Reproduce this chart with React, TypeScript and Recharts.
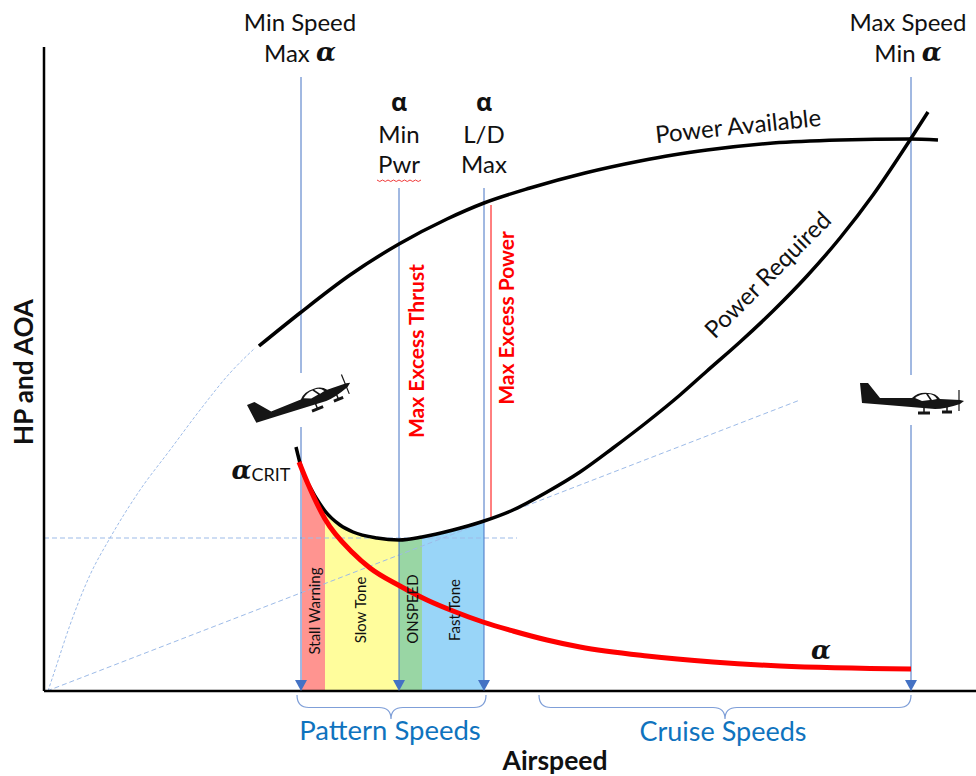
import { Area, ComposedChart, Line, ReferenceArea, ReferenceDot, ReferenceLine, XAxis, YAxis } from 'recharts'

const W = 976
const H = 776
const BODY = 'Lato, "Open Sans", sans-serif'
const GREEK = '"DejaVu Serif", serif'

const powerAvailable = [
  { x: 215, y: 345 }, { x: 256, y: 378 }, { x: 306, y: 416 }, { x: 355, y: 447 },
  { x: 403, y: 472 }, { x: 440, y: 488 }, { x: 486, y: 503 }, { x: 541, y: 518 },
  { x: 596, y: 530 }, { x: 629, y: 536 }, { x: 663, y: 541 }, { x: 729, y: 548 },
  { x: 796, y: 551 }, { x: 866, y: 552 }, { x: 894, y: 551 },
]
const powerRequired = [
  { x: 252, y: 244 }, { x: 258, y: 221 }, { x: 266, y: 204 }, { x: 276, y: 187 },
  { x: 281, y: 180 }, { x: 296, y: 166 }, { x: 309, y: 159 }, { x: 333, y: 153 },
  { x: 355, y: 151 }, { x: 378, y: 154 }, { x: 409, y: 161 }, { x: 440, y: 170 },
  { x: 469, y: 181 }, { x: 503, y: 199 }, { x: 536, y: 219 }, { x: 569, y: 243 },
  { x: 603, y: 269 }, { x: 636, y: 296 }, { x: 663, y: 320 }, { x: 696, y: 349 },
  { x: 729, y: 380 }, { x: 763, y: 415 }, { x: 796, y: 453 }, { x: 829, y: 496 },
  { x: 866, y: 551 }, { x: 884, y: 579 },
]
const alpha = [
  { x: 255, y: 229 }, { x: 264, y: 207 }, { x: 281, y: 172 }, { x: 309, y: 138 },
  { x: 326, y: 123 }, { x: 356, y: 105 }, { x: 383, y: 91 }, { x: 409, y: 80 },
  { x: 439, y: 69 }, { x: 469, y: 60 }, { x: 503, y: 51 }, { x: 536, y: 44 },
  { x: 603, y: 35 }, { x: 669, y: 29 }, { x: 736, y: 25 }, { x: 867, y: 22 },
]
const thrustCurve = [
  { x: 4, y: 0 }, { x: 11, y: 21 }, { x: 26, y: 66 }, { x: 46, y: 116 }, { x: 66, y: 153 },
  { x: 96, y: 201 }, { x: 126, y: 241 }, { x: 156, y: 281 }, { x: 186, y: 318 }, { x: 211, y: 343 },
]
const minPowerLevel = [{ x: 0, y: 153 }, { x: 473, y: 153 }]
const tangentLine = [{ x: 3, y: 0 }, { x: 756, y: 291 }]

const bands = [
  { name: 'Stall Warning', from: 258, to: 281, fill: '#FF9490' },
  { name: 'Slow Tone', from: 281, to: 355, fill: '#FFFD9C' },
  { name: 'ONSPEED', from: 355, to: 378, fill: '#99D6A4' },
  { name: 'Fast Tone', from: 378, to: 440, fill: '#99D5F8' },
]
const speedMarkers = [
  { x: 257, segments: [[614, 318], [264, 0]] },
  { x: 355, segments: [[503, 0]] },
  { x: 440, segments: [[503, 0]] },
  { x: 867, segments: [[614, 316], [266, 0]] },
]
const excessPowerAt = 447
const braces = [
  { from: 253, to: 442, tip: 347 },
  { from: 495, to: 867, tip: 681 },
]

type Note = { x: number; y: number; text: string; size?: number; bold?: boolean; fill?: string; angle?: number }
const notes: Note[] = [
  { x: 256, y: 670, text: 'Min Speed', size: 24 },
  { x: 864, y: 670, text: 'Max Speed', size: 24 },
  { x: 355, y: 558, text: 'Min', size: 24 },
  { x: 355, y: 528, text: 'Pwr', size: 24 },
  { x: 440, y: 558, text: 'L/D', size: 24 },
  { x: 440, y: 528, text: 'Max', size: 24 },
  { x: 694, y: 566, text: 'Power Available', size: 24, angle: -6 },
  { x: 723, y: 417, text: 'Power Required', size: 24, angle: -45 },
  { x: 371, y: 340, text: 'Max Excess Thrust', size: 21, bold: true, fill: '#FF0000', angle: -90 },
  { x: 461, y: 373, text: 'Max Excess Power', size: 21, bold: true, fill: '#FF0000', angle: -90 },
  { x: 270, y: 80, text: 'Stall Warning', size: 15, angle: -90 },
  { x: 316, y: 81, text: 'Slow Tone', size: 15, angle: -90 },
  { x: 368, y: 82, text: 'ONSPEED', size: 15, angle: -90 },
  { x: 410, y: 81, text: 'Fast Tone', size: 15, angle: -90 },
  { x: 346, y: -38, text: 'Pattern Speeds', size: 27.5, fill: '#0F73BE' },
  { x: 679, y: -39, text: 'Cruise Speeds', size: 27, fill: '#0F73BE' },
  { x: 511, y: -69, text: 'Airspeed', size: 26.5, bold: true },
  { x: -21, y: 319, text: 'HP and AOA', size: 26, bold: true, angle: -90 },
]

const NoteText = ({ cx, cy, note }: any) => (
  <text
    x={cx}
    y={cy}
    textAnchor="middle"
    dominantBaseline="central"
    fontFamily={BODY}
    fontSize={note.size}
    fontWeight={note.bold ? 700 : 400}
    fill={note.fill ?? '#111'}
    transform={note.angle ? `rotate(${note.angle} ${cx} ${cy})` : undefined}
  >
    {note.text}
  </text>
)

const AlphaText = ({ cx, cy, prefix, suffix, upright }: any) => (
  <text x={cx} y={cy} textAnchor="middle" dominantBaseline="central" fontFamily={BODY} fontSize={24} fill="#111">
    {prefix}
    <tspan
      fontFamily={upright ? '"Open Sans", sans-serif' : GREEK}
      fontWeight={700}
      fontStyle={upright ? 'normal' : 'italic'}
      fontSize={upright ? 25 : 26}
    >
      α
    </tspan>
    {suffix && <tspan fontSize={18} dy={4}>{suffix}</tspan>}
  </text>
)

const Arrow = ({ cx, cy }: any) => <path d={`M${cx - 6} ${cy - 11} L${cx + 6} ${cy - 11} L${cx} ${cy} Z`} fill="#4472C4" />

const Brace = ({ x, y, width, height, tipShare }: any) => {
  const r = 12
  const tipX = x + width * tipShare
  const mid = y + height * 0.52
  return (
    <path
      fill="none"
      stroke="#7F9FD8"
      strokeWidth={1.2}
      d={`M${x} ${y} Q${x} ${mid} ${x + r} ${mid} L${tipX - r} ${mid} Q${tipX} ${mid} ${tipX} ${y + height} Q${tipX} ${mid} ${tipX + r} ${mid} L${x + width - r} ${mid} Q${x + width} ${mid} ${x + width} ${y}`}
    />
  )
}

const planeBody = (
  <>
    <path
      fill="#151515"
      d="M0 0 L8 0 L20 15 L52 15 Q58 9 68 10 Q76 10 80 16 L100 17 L104 18 L100 21 Q85 26 75 26 L27 22 L2 20 Z"
    />
    <path fill="#fff" d="M55 15 Q60 11 66 11 L70 17 L62 18 Z" />
    <path fill="#fff" d="M68 11 Q74 11 77 16 L72 17 Z" />
    <path stroke="#151515" strokeWidth={1.2} d="M99 7 L99 28" />
    <path stroke="#151515" strokeWidth={3} d="M58 30 L70 30 M82 29 L92 29" />
    <path stroke="#151515" strokeWidth={1.5} d="M64 24 L64 30 M87 24 L87 29" />
  </>
)

const Plane = ({ cx, cy, angle, box }: any) => (
  <g>
    <rect x={box[0]} y={box[1]} width={box[2]} height={box[3]} fill="#fff" />
    <g transform={`translate(${cx} ${cy}) rotate(${angle})`}>{planeBody}</g>
  </g>
)

const Squiggle = ({ cx, cy }: any) => (
  <path
    fill="none"
    stroke="#F03A3A"
    strokeWidth={1}
    d={`M${cx - 22} ${cy} q2.75 3 5.5 0 q2.75 3 5.5 0 q2.75 3 5.5 0 q2.75 3 5.5 0 q2.75 3 5.5 0 q2.75 3 5.5 0 q2.75 3 5.5 0 q2.75 3 5.5 0`}
  />
)

export default function App() {
  return (
    <div style={{ position: 'absolute', left: 0, top: 0, width: W, height: H, background: '#fff' }}>
      <ComposedChart width={W} height={H} margin={{ top: 47, right: 0, bottom: 84, left: 43 }}>
        <XAxis type="number" dataKey="x" domain={[0, 932]} height={1} tick={false} tickLine={false} axisLine={{ stroke: '#000', strokeWidth: 2.5 }} allowDuplicatedCategory={false} />
        <YAxis type="number" dataKey="y" domain={[0, 644]} width={1} tick={false} tickLine={false} axisLine={{ stroke: '#000', strokeWidth: 2.5 }} />

        {bands.map((b) => (
          <Area
            key={b.name}
            data={powerRequired.filter((p) => p.x >= b.from && p.x <= b.to)}
            dataKey="y"
            type="monotone"
            fill={b.fill}
            fillOpacity={1}
            stroke="none"
            isAnimationActive={false}
          />
        ))}

        <Line data={thrustCurve} dataKey="y" type="monotone" stroke="#9DBBE8" strokeWidth={1} strokeDasharray="3 2" dot={false} isAnimationActive={false} />
        <Line data={minPowerLevel} dataKey="y" stroke="#9DBBE8" strokeWidth={1} strokeDasharray="5 3" dot={false} isAnimationActive={false} />
        <Line data={tangentLine} dataKey="y" stroke="#9DBBE8" strokeWidth={1} strokeDasharray="5 3" dot={false} isAnimationActive={false} />

        {speedMarkers.map((m) =>
          m.segments.map((s) => (
            <ReferenceLine key={`${m.x}-${s[0]}`} segment={[{ x: m.x, y: s[0] }, { x: m.x, y: s[1] }]} stroke="#4472C4" strokeWidth={1} />
          )),
        )}
        <ReferenceLine segment={[{ x: excessPowerAt, y: 486 }, { x: excessPowerAt, y: 172 }]} stroke="#FF0000" strokeWidth={1} />

        <Line data={powerAvailable} dataKey="y" type="monotone" stroke="#000" strokeWidth={3.5} dot={false} isAnimationActive={false} />
        <Line data={powerRequired} dataKey="y" type="monotone" stroke="#000" strokeWidth={3.5} dot={false} isAnimationActive={false} />
        <Line data={alpha} dataKey="y" type="monotone" stroke="#FF0000" strokeWidth={5} dot={false} isAnimationActive={false} />

        {speedMarkers.map((m) => (
          <ReferenceDot key={m.x} x={m.x} y={0} ifOverflow="visible" shape={<Arrow />} />
        ))}
        {braces.map((b) => (
          <ReferenceArea key={b.from} x1={b.from} x2={b.to} y1={-4} y2={-28} ifOverflow="visible" shape={<Brace tipShare={(b.tip - b.from) / (b.to - b.from)} />} />
        ))}

        <ReferenceDot x={203} y={286} ifOverflow="visible" shape={<Plane angle={-22} box={[245, 373, 106, 54]} />} />
        <ReferenceDot x={816} y={308} ifOverflow="visible" shape={<Plane angle={0} box={[858, 375, 108, 50]} />} />

        {notes.map((n) => (
          <ReferenceDot key={n.text} x={n.x} y={n.y} ifOverflow="visible" shape={<NoteText note={n} />} />
        ))}
        <ReferenceDot x={256} y={639} ifOverflow="visible" shape={<AlphaText prefix="Max " />} />
        <ReferenceDot x={864} y={639} ifOverflow="visible" shape={<AlphaText prefix="Min " />} />
        <ReferenceDot x={355} y={590} ifOverflow="visible" shape={<AlphaText upright />} />
        <ReferenceDot x={440} y={590} ifOverflow="visible" shape={<AlphaText upright />} />
        <ReferenceDot x={777} y={41} ifOverflow="visible" shape={<AlphaText />} />
        <ReferenceDot x={217} y={221} ifOverflow="visible" shape={<AlphaText suffix="CRIT" />} />
        <ReferenceDot x={355} y={511} ifOverflow="visible" shape={<Squiggle />} />
      </ComposedChart>
    </div>
  )
}
